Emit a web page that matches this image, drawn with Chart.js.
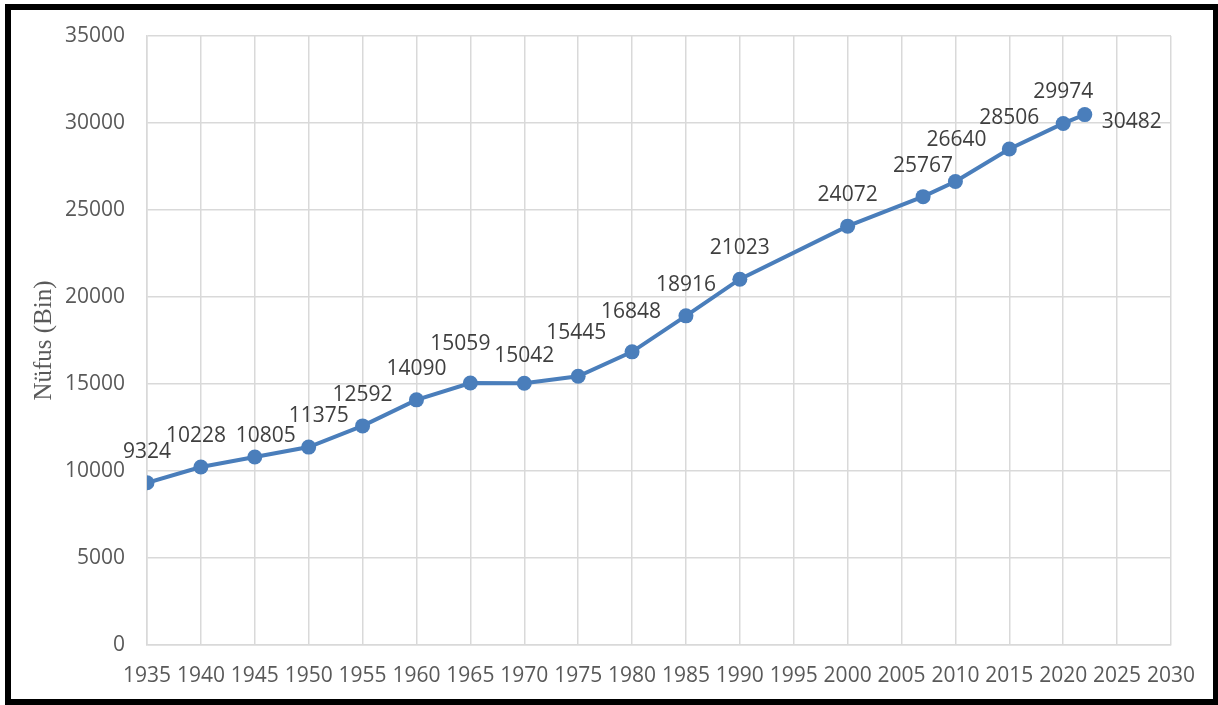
<!DOCTYPE html>
<html>
<head>
<meta charset="utf-8">
<script src="https://cdn.jsdelivr.net/npm/chart.js@4.4.1/dist/chart.umd.min.js"></script>
<style>
  html, body { margin: 0; padding: 0; background: #ffffff; }
  #frame { position: absolute; left: 5px; top: 4px; width: 1213px; height: 701px; box-sizing: border-box; border: 6px solid #000; border-right-width: 5px; }
  #c { position: absolute; left: 0; top: 0; }
</style>
</head>
<body>
<div id="frame"></div>
<canvas id="c" width="1218" height="705"></canvas>
<script>
// ---- data ----
const years = [1935, 1940, 1945, 1950, 1955, 1960, 1965, 1970, 1975, 1980, 1985, 1990, 2000, 2007, 2010, 2015, 2020, 2022];
const population = [9324, 10228, 10805, 11375, 12592, 14090, 15059, 15042, 15445, 16848, 18916, 21023, 24072, 25767, 26640, 28506, 29974, 30482];
const yAxisTitle = 'Nüfus (Bin)';
const xTickMin = 1935, xTickMax = 2030, xTickStep = 5;
const yTickMin = 0, yTickMax = 35000, yTickStep = 5000;

// label placement (layout only): [dx, distance of baseline above point]
const labelPlacement = {
  1: [-5, 25], 2: [11, 15], 3: [10, 25], 6: [-10, 33], 7: [0, 21],
  8: [-2, 37], 9: [-1, 34], 14: [1, 35]
};
const defaultPlacement = [0, 25];

const points = years.map((y, i) => ({ x: y, y: population[i] }));

const labelPlugin = {
  id: 'pointLabels',
  afterDatasetsDraw(chart) {
    const ctx = chart.ctx;
    const meta = chart.getDatasetMeta(0);
    ctx.save();
    ctx.font = '21px "Open Sans"';
    ctx.fillStyle = '#3f3f3f';
    meta.data.forEach((el, i) => {
      const txt = String(population[i]);
      if (i === population.length - 1) {
        ctx.textAlign = 'left';
        ctx.textBaseline = 'middle';
        ctx.fillText(txt, el.x + 17, el.y + 7);
        return;
      }
      const p = labelPlacement[i] || defaultPlacement;
      ctx.textAlign = 'center';
      ctx.textBaseline = 'alphabetic';
      ctx.fillText(txt, el.x + p[0], el.y - p[1]);
    });
    ctx.restore();
  }
};

new Chart(document.getElementById('c'), {
  type: 'line',
  data: {
    datasets: [{
      data: points,
      borderColor: '#4a7ebb',
      backgroundColor: '#4a7ebb',
      borderWidth: 4,
      pointRadius: 7.5,
      pointHoverRadius: 7.5,
      pointBorderWidth: 0,
      tension: 0,
      fill: false
    }]
  },
  options: {
    responsive: false,
    animation: false,
    events: [],
    layout: { padding: { top: 36, right: 47, left: 0, bottom: 0 } },
    plugins: { legend: { display: false }, tooltip: { enabled: false } },
    scales: {
      x: {
        type: 'linear',
        min: xTickMin, max: xTickMax,
        grid: { color: '#d9d9d9', lineWidth: 1.5, drawTicks: false },
        border: { color: '#d9d9d9', width: 1.5 },
        ticks: {
          stepSize: xTickStep,
          padding: 18,
          color: '#595959',
          font: { family: 'Open Sans', size: 21 },
          maxRotation: 0,
          autoSkip: false,
          callback: v => String(v)
        },
        afterFit(s) { s.height = 60; }
      },
      y: {
        min: yTickMin, max: yTickMax,
        grid: { color: '#d9d9d9', lineWidth: 1.5, drawTicks: false },
        border: { color: '#d9d9d9', width: 1.5 },
        ticks: {
          stepSize: yTickStep,
          padding: 22,
          color: '#595959',
          font: { family: 'Open Sans', size: 21 },
          callback: v => String(v)
        },
        title: {
          display: true,
          text: yAxisTitle,
          color: '#595959',
          font: { family: 'Liberation Serif', size: 25 },
          padding: { top: 29, bottom: 0 }
        },
        afterFit(s) { s.width = 147; }
      }
    }
  },
  plugins: [labelPlugin]
});
</script>
</body>
</html>
